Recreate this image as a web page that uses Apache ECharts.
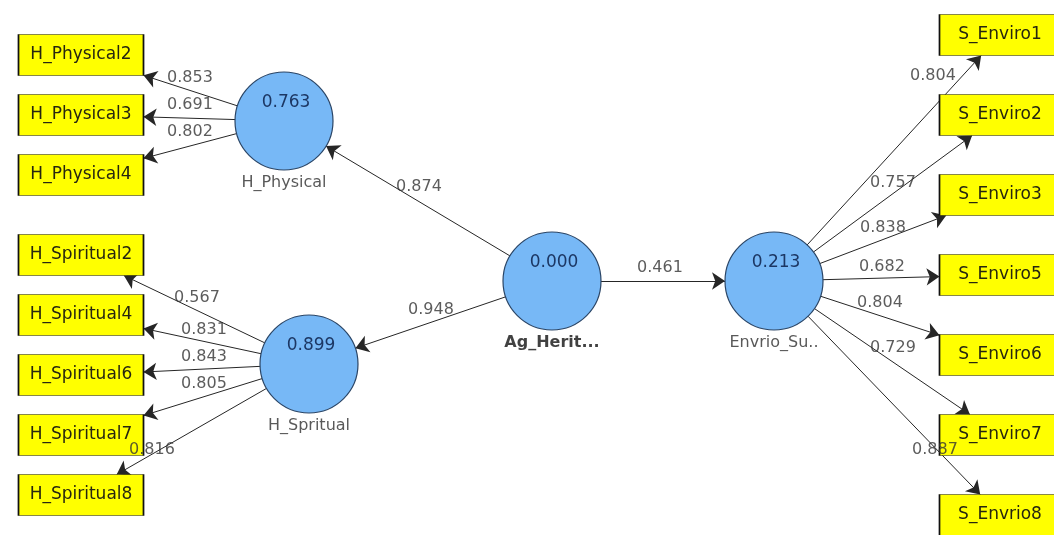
<!DOCTYPE html>
<html><head><meta charset="utf-8">
<script src="https://cdn.jsdelivr.net/npm/echarts@6/dist/echarts.min.js"></script>
<style>html,body{margin:0;padding:0;background:#fff}#c{width:1054px;height:535px}</style>
</head><body><div id="c"></div>
<script>
// ---------------- data ----------------
const latentIds = ['HP', 'HS', 'AG', 'EN'];
const latentLabels = ['H_Physical', 'H_Spritual', 'Ag_Herit...', 'Envrio_Su..'];
const rSquared = [0.763, 0.899, 0.000, 0.213];

const hpIndicators = ['H_Physical2', 'H_Physical3', 'H_Physical4'];
const hpLoadings = [0.853, 0.691, 0.802];
const hsIndicators = ['H_Spiritual2', 'H_Spiritual4', 'H_Spiritual6', 'H_Spiritual7', 'H_Spiritual8'];
const hsLoadings = [0.567, 0.831, 0.843, 0.805, 0.816];
const enIndicators = ['S_Enviro1', 'S_Enviro2', 'S_Enviro3', 'S_Enviro5', 'S_Enviro6', 'S_Enviro7', 'S_Envrio8'];
const enLoadings = [0.804, 0.757, 0.838, 0.682, 0.804, 0.729, 0.887];

const pathFrom = ['AG', 'AG', 'AG'];
const pathTo = ['HP', 'HS', 'EN'];
const pathCoefs = [0.874, 0.948, 0.461];

// ---------------- layout (pixel positions) ----------------
const latentPos = { HP: [284, 121], HS: [309, 364], AG: [552, 281], EN: [774, 281] };
const latentRadius = 49;
const leftBox = { x: 81, w: 125, h: 41 };
const rightBox = { x: 1000, w: 121, h: 41 };
const hpBoxY = [55, 115, 175];
const hsBoxY = [255, 315, 375, 435, 495];
const enBoxY = [35, 115, 195, 275, 355, 435, 515];
const hpLabelPos = [[190, 78], [190, 105], [190, 132]];
const hsLabelPos = [[197, 298], [204, 330], [204, 357], [204, 384], [152, 450]];
const enLabelPos = [[933, 76], [893, 183], [883, 228], [882, 267], [880, 303], [893, 348], [935, 450]];
const pathLabelPos = [[419, 187], [431, 310], [660, 268]];

// ---------------- build ----------------
const boxes = [];
const edges = [];
const edgeLabels = [];

function addBlock(latent, names, loads, boxY, box, labelPos) {
  names.forEach((n, i) => {
    const b = { name: n, c: [box.x, boxY[i]], w: box.w, h: box.h };
    boxes.push(b);
    edges.push({ from: latentPos[latent], to: b.c, toBox: b });
    edgeLabels.push({ value: labelPos[i], v: loads[i] });
  });
}
addBlock('HP', hpIndicators, hpLoadings, hpBoxY, leftBox, hpLabelPos);
addBlock('HS', hsIndicators, hsLoadings, hsBoxY, leftBox, hsLabelPos);
addBlock('EN', enIndicators, enLoadings, enBoxY, rightBox, enLabelPos);
pathFrom.forEach((f, i) => {
  edges.push({ from: latentPos[f], to: latentPos[pathTo[i]], toBox: null });
  edgeLabels.push({ value: pathLabelPos[i], v: pathCoefs[i] });
});

function clipEdge(e) {
  const [x1, y1] = e.from, [x2, y2] = e.to;
  const dx = x2 - x1, dy = y2 - y1;
  const len = Math.hypot(dx, dy);
  const ux = dx / len, uy = dy / len;
  const start = [x1 + ux * latentRadius, y1 + uy * latentRadius];
  let end;
  if (e.toBox) {
    const hw = e.toBox.w / 2, hh = e.toBox.h / 2;
    const t = Math.min(Math.abs(dx) > 1e-6 ? hw / Math.abs(dx) : Infinity,
                       Math.abs(dy) > 1e-6 ? hh / Math.abs(dy) : Infinity);
    end = [x2 - dx * t, y2 - dy * t];
  } else {
    end = [x2 - ux * latentRadius, y2 - uy * latentRadius];
  }
  return { coords: [start, end] };
}

const fontFam = '"DejaVu Sans", "Liberation Sans", sans-serif';

const option = {
  animation: false,
  backgroundColor: '#ffffff',
  grid: { left: 0, right: 0, top: 0, bottom: 0 },
  xAxis: { type: 'value', min: 0, max: 1054, show: false },
  yAxis: { type: 'value', min: 0, max: 535, inverse: true, show: false },
  series: [
    {
      type: 'lines',
      coordinateSystem: 'cartesian2d',
      z: 1,
      symbol: ['none', 'arrow'],
      symbolSize: [10, 13],
      lineStyle: { color: '#262626', width: 1, opacity: 1 },
      itemStyle: { color: '#111' },
      data: edges.map(clipEdge)
    },
    {
      type: 'scatter',
      z: 2,
      symbol: 'rect',
      itemStyle: { color: '#ffff00', borderColor: '#111111', borderWidth: 1, opacity: 1 },
      label: {
        show: true, position: 'inside', color: '#262610',
        fontFamily: fontFam, fontSize: 17,
        formatter: p => p.name
      },
      emphasis: { disabled: true },
      data: boxes.map(b => ({ name: b.name, value: b.c, symbolSize: [b.w, b.h] }))
    },
    {
      type: 'scatter',
      z: 3,
      symbol: 'circle',
      symbolSize: latentRadius * 2,
      itemStyle: { color: '#77b8f6', borderColor: '#2a4566', borderWidth: 1.2, opacity: 1 },
      label: {
        show: true, position: 'inside', offset: [2, -18], color: '#1c3764',
        fontFamily: fontFam, fontSize: 17,
        formatter: p => rSquared[p.dataIndex].toFixed(3)
      },
      emphasis: { disabled: true },
      data: latentIds.map((id, i) => ({ name: latentLabels[i], value: latentPos[id] }))
    },
    {
      type: 'scatter',
      z: 4,
      symbol: 'circle',
      symbolSize: latentRadius * 2,
      itemStyle: { color: 'rgba(0,0,0,0)' },
      label: {
        show: true, position: 'bottom', distance: 5, color: '#2f2f2f',
        fontFamily: fontFam, fontSize: 16,
        formatter: p => p.name
      },
      emphasis: { disabled: true },
      data: latentIds.map((id, i) => ({
        name: latentLabels[i], value: latentPos[id],
        label: id === 'AG' ? { fontWeight: 'bold', color: '#111' } : {}
      }))
    },
    {
      type: 'scatter',
      z: 5,
      symbolSize: 0,
      label: {
        show: true, position: 'inside', color: '#333',
        fontFamily: fontFam, fontSize: 16,
        formatter: p => edgeLabels[p.dataIndex].v.toFixed(3)
      },
      emphasis: { disabled: true },
      data: edgeLabels.map(l => ({ value: l.value }))
    }
  ]
};

const chart = echarts.init(document.getElementById('c'), null, { renderer: 'canvas' });
chart.setOption(option);
</script>
</body></html>
